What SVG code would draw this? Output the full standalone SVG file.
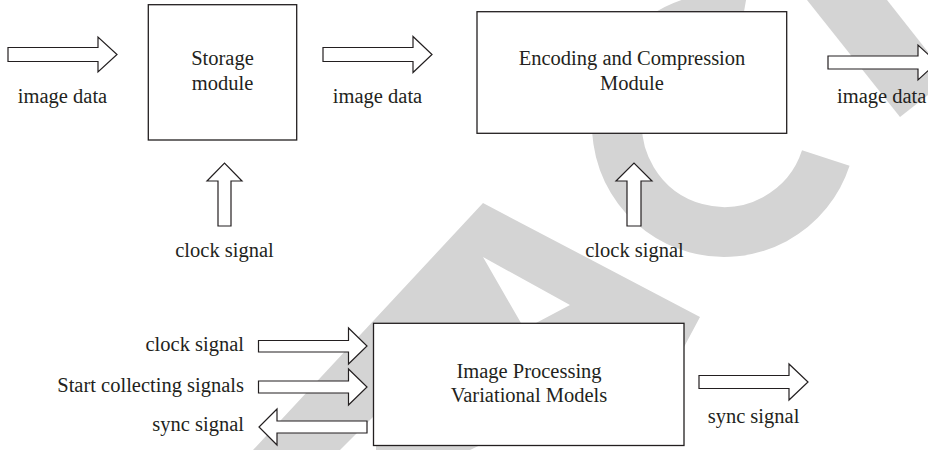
<svg xmlns="http://www.w3.org/2000/svg" width="928" height="450" viewBox="0 0 928 450">
<style>
.wm{fill:#d4d4d4;stroke:none}
.box{fill:#fff;stroke:#231f20;stroke-width:1.3}
.arr{fill:#fff;stroke:#231f20;stroke-width:1.2;stroke-linejoin:miter}
text{font-family:"Liberation Serif","Times New Roman",serif;font-size:20.5px;fill:#231f20}
.m{text-anchor:middle}
.e{text-anchor:end}
</style>
<rect width="928" height="450" fill="#fff"/>
<g id="watermark">
<path class="wm" fill-rule="evenodd" d="M483,203 L700,317 L684,347 L470,450 L376,450 L376,414 L340,450 L253,450 Z M483,257 L570,305 L536,323 L521,323 Z"/>
<path d="M742.6,19.6 A107,107 0 1 0 825.8,158.1" fill="none" stroke="#d4d4d4" stroke-width="50"/>
<polygon class="wm" points="807,0 887,0 928,52 928,95 900,117"/>
</g>
<g id="connectors">
<polygon class="arr" points="8,47.5 98,47.5 98,37 117,54.5 98,72 98,61.5 8,61.5"/>
<polygon class="arr" points="323,47.5 413,47.5 413,36.5 432,54.5 413,72.5 413,61.5 323,61.5"/>
<polygon class="arr" points="828,56 918,56 918,45 937,62.5 918,80 918,69 828,69"/>
<polygon class="arr" points="218,226 218,181 207,181 224.5,163 242,181 231,181 231,226"/>
<polygon class="arr" points="627,226 627,181 616,181 634,163 652,181 641,181 641,226"/>
<polygon class="arr" points="258.5,340.5 348.5,340.5 348.5,328 367,346 348.5,364 348.5,352 258.5,352"/>
<polygon class="arr" points="258.5,381 348.5,381 348.5,369 367,387 348.5,405 348.5,393 258.5,393"/>
<polygon class="arr" points="367,421 277,421 277,409 259,427 277,445 277,433 367,433"/>
<polygon class="arr" points="699,375.5 789,375.5 789,364 808,382 789,400 789,388.5 699,388.5"/>
<text class="m" x="62.5" y="103">image data</text>
<text class="m" x="377.5" y="103">image data</text>
<text x="837" y="103">image data</text>
<text class="m" x="224.5" y="257">clock signal</text>
<text class="m" x="634.5" y="257">clock signal</text>
<text class="e" x="244" y="351">clock signal</text>
<text class="e" x="244" y="392">Start collecting signals</text>
<text class="e" x="244" y="431">sync signal</text>
<text class="m" x="753.5" y="423">sync signal</text>
</g>
<g id="storage">
<rect class="box" x="148.3" y="4.7" width="148.4" height="135.3"/>
<text class="m" x="222.5" y="65">Storage</text>
<text class="m" x="222.5" y="90">module</text>
</g>
<g id="encoding">
<rect class="box" x="477" y="11.7" width="309.7" height="121.6"/>
<text class="m" x="632" y="65">Encoding and Compression</text>
<text class="m" x="632" y="90">Module</text>
</g>
<g id="imgproc">
<rect class="box" x="373.5" y="323.3" width="310.5" height="122.2"/>
<text class="m" x="529" y="377.5">Image Processing</text>
<text class="m" x="529" y="402">Variational Models</text>
</g>
</svg>
